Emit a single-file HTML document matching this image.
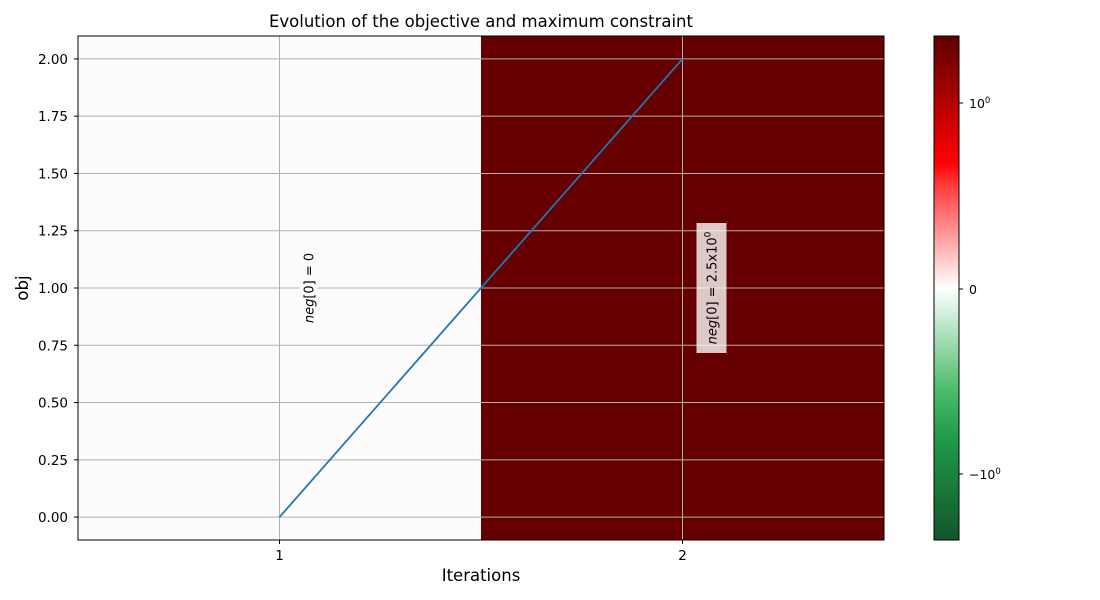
<!DOCTYPE html>
<html><head><meta charset="utf-8"><style>
html,body{margin:0;padding:0;background:#fff;}
svg{display:block;font-family:"DejaVu Sans","Liberation Sans",sans-serif;}
</style></head><body>
<svg id="chart" width="1100" height="600" xmlns="http://www.w3.org/2000/svg">
<defs>
<linearGradient id="cbgrad" x1="0" y1="1" x2="0" y2="0">
<stop offset="0" stop-color="#12572b"/>
<stop offset="0.2" stop-color="#1f9a48"/>
<stop offset="0.3" stop-color="#4dbd6c"/>
<stop offset="0.5" stop-color="#ffffff"/>
<stop offset="0.7" stop-color="#ff4040"/>
<stop offset="0.75" stop-color="#ff0000"/>
<stop offset="1" stop-color="#5e0000"/>
</linearGradient>
</defs>
</svg>
<script>
const iterations = [1, 2];
const objValues = [0, 2];
const cellValues = [0, 2.5];
const cellLabels = ["neg[0] = 0", "neg[0] = 2.5x10"];
const yTicks = [0, 0.25, 0.5, 0.75, 1.0, 1.25, 1.5, 1.75, 2.0];
const yTickLabels = ["0.00","0.25","0.50","0.75","1.00","1.25","1.50","1.75","2.00"];

const svg = document.getElementById('chart');
const NS = 'http://www.w3.org/2000/svg';
const L=78,R=884,T=36,B=540;
const xMin=0.5,xMax=2.5,yMin=-0.1,yMax=2.1;
const xs = v => L+(v-xMin)/(xMax-xMin)*(R-L);
const ys = v => B-(v-yMin)/(yMax-yMin)*(B-T);
function mk(tag, attrs, parent){const e=document.createElementNS(NS,tag);for(const k in attrs)e.setAttribute(k,attrs[k]);(parent||svg).appendChild(e);return e;}
function cellColor(v){ return v===0 ? '#fdfbfc' : '#660000'; }

const cells = mk('g',{});


iterations.forEach((it,i)=>{
  const r=mk('rect',{x:xs(it-0.5),y:T,width:xs(it+0.5)-xs(it-0.5),height:B-T,fill:cellColor(cellValues[i])},cells);
  
  
});
const grid = mk('g',{});


yTicks.forEach(t=>{
  mk('line',{x1:L,x2:R,y1:ys(t),y2:ys(t),stroke:'#b0b0b0','stroke-width':1},grid);
});
iterations.forEach(t=>{
  mk('line',{x1:xs(t),x2:xs(t),y1:T,y2:B,stroke:'#b0b0b0','stroke-width':1},grid);
});
const pts = iterations.map((it,i)=>xs(it)+','+ys(objValues[i])).join(' ');
const line = mk('polyline',{points:pts,fill:'none',stroke:'#1f77b4','stroke-width':1.8});


iterations.forEach((it,i)=>{
  const cx = xs(it)+29, cy = ys(1.0);
  const g = mk('g',{transform:`translate(${cx},${cy}) rotate(-90)`});
  
  
  if(cellValues[i]!==0){
    mk('rect',{x:-65,y:-15,width:130,height:30,fill:'#ffffff','fill-opacity':0.78},g);
  } else {
    mk('rect',{x:-36,y:-9,width:72,height:18,fill:'#fdfbfc'},g);
  }
  const t = mk('text',{x:0,y:5,'text-anchor':'middle','font-size':13,fill:'#000'},g);
  const parts = cellLabels[i].split('[0]');
  const s1 = mk('tspan',{'font-style':'italic'},t); s1.textContent=parts[0];
  const s2 = mk('tspan',{},t); s2.textContent='[0]'+parts[1];
  if(cellValues[i]!==0){ const s3=mk('tspan',{dy:-6,'font-size':9},t); s3.textContent='0'; }
});
const frame = mk('rect',{x:L,y:T,width:R-L,height:B-T,fill:'none',stroke:'#000','stroke-width':1});


yTicks.forEach((t,i)=>{
  mk('line',{x1:L-4,x2:L,y1:ys(t),y2:ys(t),stroke:'#000'});
  const tx=mk('text',{x:L-10,y:ys(t)+5,'text-anchor':'end','font-size':13.5});
  tx.textContent=yTickLabels[i];
  
  
});
iterations.forEach(t=>{
  mk('line',{x1:xs(t),x2:xs(t),y1:B,y2:B+4,stroke:'#000'});
  const tx=mk('text',{x:xs(t),y:B+20,'text-anchor':'middle','font-size':13.5});
  tx.textContent=String(t);
  
  
});
const title=mk('text',{x:481,y:27,'text-anchor':'middle','font-size':16.5});
title.textContent='Evolution of the objective and maximum constraint';


const xl=mk('text',{x:481,y:581,'text-anchor':'middle','font-size':16.5});
xl.textContent='Iterations';


const yl=mk('text',{x:0,y:0,'text-anchor':'middle','font-size':16.5,transform:'translate(28,288) rotate(-90)'});
yl.textContent='obj';


const cb=mk('rect',{x:934,y:36,width:25,height:504,fill:'url(#cbgrad)',stroke:'#000','stroke-width':1});


const cbTicks=[[103,'10','0'],[289,'0',''],[474,'\u221210','0']];
cbTicks.forEach(([y,lab,sup])=>{
  mk('line',{x1:959,x2:963,y1:y,y2:y,stroke:'#000'});
  const t=mk('text',{x:969,y:y+5,'font-size':12.5});
  
  
  const a=mk('tspan',{},t);a.textContent=lab;
  if(sup){const b=mk('tspan',{dy:-5,'font-size':8.5},t);b.textContent=sup;}
});
</script>
</body></html>
